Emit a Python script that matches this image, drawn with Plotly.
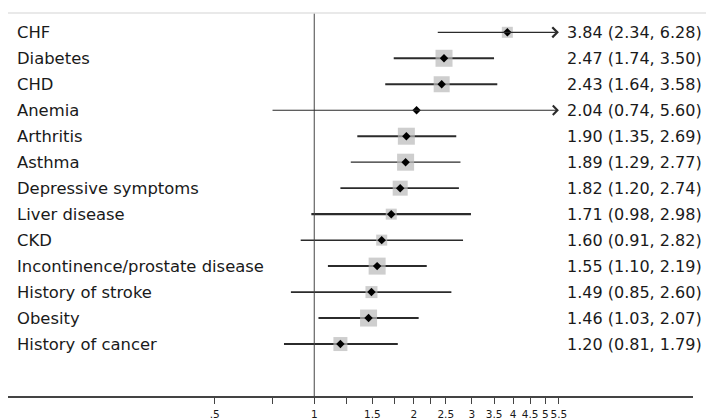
import math
import plotly.graph_objects as go

# ---- data ----
labels = ["CHF", "Diabetes", "CHD", "Anemia", "Arthritis", "Asthma",
          "Depressive symptoms", "Liver disease", "CKD",
          "Incontinence/prostate disease", "History of stroke", "Obesity",
          "History of cancer"]
odds_ratio = [3.84, 2.47, 2.43, 2.04, 1.90, 1.89, 1.82, 1.71, 1.60, 1.55, 1.49, 1.46, 1.20]
ci_lower = [2.34, 1.74, 1.64, 0.74, 1.35, 1.29, 1.20, 0.98, 0.91, 1.10, 0.85, 1.03, 0.81]
ci_upper = [6.28, 3.50, 3.58, 5.60, 2.69, 2.77, 2.74, 2.98, 2.82, 2.19, 2.60, 2.07, 1.79]
tick_vals = [0.5, 0.75, 1, 1.25, 1.5, 1.75, 2, 2.25, 2.5, 3, 3.5, 4, 4.5, 5, 5.5]
tick_text = [".5", "", "1", "", "1.5", "", "2", "", "2.5", "3", "3.5", "4", "4.5", "5", "5.5"]

# ---- styles ----
box_px = [11, 17, 16, 0, 17, 17, 15, 11, 11, 17, 12, 17, 14]
line_w = [1.3, 2.0, 2.0, 1.2, 2.0, 1.3, 1.8, 2.2, 1.5, 2.0, 1.6, 2.0, 2.0]
FONT = "DejaVu Sans"
W, H = 706, 419
ML, MR, MT, MB = 8, 13, 13, 23
x_lo, x_hi = 0.1184, 13.999  # axis range (values) at plot edges
x_cap = max(tick_vals)

n = len(labels)
ypos = [n - 1 - i for i in range(n)]

fig = go.Figure()

# CI lines (non-arrow)
for i in range(n):
    if ci_upper[i] > x_cap:
        continue
    fig.add_trace(go.Scatter(x=[ci_lower[i], ci_upper[i]], y=[ypos[i], ypos[i]],
                             mode="lines", line=dict(color="#2b2b2b", width=line_w[i]),
                             hoverinfo="skip", showlegend=False))

# arrows for CIs exceeding the axis
for i in range(n):
    if ci_upper[i] > x_cap:
        fig.add_annotation(x=math.log10(x_cap), y=ypos[i], ax=math.log10(ci_lower[i]), ay=ypos[i],
                           xref="x", yref="y", axref="x", ayref="y", text="",
                           showarrow=True, arrowhead=4, arrowsize=1.5, arrowwidth=line_w[i],
                           arrowcolor="#2b2b2b", standoff=0, startstandoff=0)

# weight boxes
fig.add_trace(go.Scatter(x=odds_ratio, y=ypos, mode="markers",
                         marker=dict(symbol="square", size=box_px, color="#b9b9b9",
                                     line=dict(width=0)),
                         hoverinfo="skip", showlegend=False))
# point estimates
fig.add_trace(go.Scatter(x=odds_ratio, y=ypos, mode="markers",
                         marker=dict(symbol="diamond", size=6.5, color="#000000"),
                         hoverinfo="skip", showlegend=False))

# reference line at 1
fig.add_shape(type="line", xref="x", yref="paper", x0=1, x1=1, y0=0, y1=1,
              line=dict(color="#444444", width=1))
# top rule
fig.add_shape(type="line", xref="paper", yref="paper", x0=0, x1=(W - ML) / (W - ML - MR), y0=1, y1=1,
              line=dict(color="#e2e2e2", width=1.5))

pw = W - ML - MR
for i in range(n):
    fig.add_annotation(x=(15 - ML) / pw, y=ypos[i], xref="paper", yref="y",
                       text=labels[i], showarrow=False, xanchor="left", yanchor="middle",
                       font=dict(family=FONT, size=16.4, color="#1a1a1a"))
    fig.add_annotation(x=(565 - ML) / pw, y=ypos[i], xref="paper", yref="y",
                       text=f"{odds_ratio[i]:.2f} ({ci_lower[i]:.2f}, {ci_upper[i]:.2f})",
                       showarrow=False, xanchor="left", yanchor="middle",
                       font=dict(family=FONT, size=16, color="#1a1a1a"))

fig.update_layout(
    width=W, height=H, margin=dict(l=ML, r=MR, t=MT, b=MB, pad=0, autoexpand=False),
    paper_bgcolor="white", plot_bgcolor="white", showlegend=False,
    xaxis=dict(type="log", range=[math.log10(x_lo), math.log10(x_hi)],
               tickvals=tick_vals, ticktext=tick_text, ticks="outside", ticklen=6,
               tickwidth=1.3, tickcolor="#444444", showline=True, linewidth=2,
               linecolor="#444444", showgrid=False, zeroline=False,
               tickangle=0, automargin=False,
               tickfont=dict(family=FONT, size=10.5, color="#1a1a1a"),
               ticklabelstandoff=1, fixedrange=True),
    yaxis=dict(range=[-2.0, 12.743], visible=False, showgrid=False, zeroline=False,
               automargin=False, fixedrange=True),
)

fig.write_html("out.html", config={"displayModeBar": False},
               post_script="document.body.style.margin='0';document.body.style.overflow='hidden';")
